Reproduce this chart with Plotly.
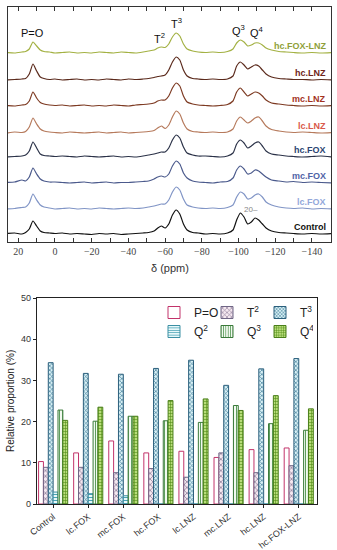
import plotly.graph_objects as go

# ---------------- Top panel: NMR spectra ----------------
ppm = [26, 22, 18, 16, 14, 12, 10, 8, 6, 3,
       0, -4, -8, -12, -16, -20, -24, -28, -32, -36,
       -40, -44, -48, -51, -54, -56, -58, -60, -62, -64,
       -66, -68, -70, -72, -75, -78, -82, -86, -90, -94,
       -97, -99, -101, -103, -105, -107, -109, -111, -113, -115,
       -118, -122, -126, -130, -135, -140, -145, -151]

control = [0.5, 1, 0, 1.5, 5, 13, 8, 3, 1.5, 1, 0.5, 1, 0, 0.5, 0, -0.5, 0.5, 0, 0.5, -0.5,
           0, 0.5, 1, 1.5, 3, 6, 8, 6, 10, 19, 24, 20, 10, 4, 1.5, 1, 0, 0.5, 0, 1,
           4, 14, 21, 17, 10, 12, 16, 14, 10, 6, 3, 1.5, 1, 0.5, 0, 0.5, 0, 0.5]
lc_fox = [0, 0.5, 1.5, 2, 6, 15, 9, 4, 2, 1, 0, 0.5, 1, 0, 0.5, 0, 1, 0.5, 0, 0.5,
          1, 0.5, 1, 2, 3, 4, 5, 5, 9, 17, 22, 19, 10, 4, 2, 1, 0.5, 1, 0.5, 1.5,
          4, 12, 17, 15, 10, 11, 14, 15, 12, 7, 4, 2, 1, 0.5, 1, 0, 0.5, 0]
mc_fox = [0.5, 1, 3, 2, 6, 15, 9, 4, 2, 1, 1, 0.5, 0, 0.5, 1, 0, 0.5, 1, 0, 0.5,
          0.5, 1, 1.5, 2, 4, 6, 7, 6, 9, 17, 22, 19, 10, 5, 2, 1, 0.5, 0, 1, 1.5,
          5, 13, 17, 14, 9, 10, 13, 12, 9, 6, 3, 2, 1, 1.5, 0.5, 1, 0.5, 0]
hc_fox = [0, 0.5, 1, 2, 6, 15, 9, 3, 1.5, 1, 0.5, 1, 0.5, 0, 1, 0.5, 0, 0.5, 1, 0,
          0.5, 0, 1, 2, 3, 4, 5, 5, 9, 17, 22, 19, 10, 4, 2, 1, 1, 0.5, 0, 1,
          4, 13, 17, 14, 9, 11, 14, 15, 11, 6, 3, 2, 1, 0.5, 0, 0.5, 1, 0]
lc_lnz = [0, 1, 0.5, 1.5, 6, 15, 9, 4, 2, 1, 0.5, 0, 1, 0.5, 0, 0.5, 1, 0, 0.5, 1,
          0, 0.5, 1, 1.5, 2.5, 5, 7, 4.5, 8, 16, 22, 19, 10, 4, 1.5, 1, 0.5, 1, 0.5, 1,
          4, 12, 16, 13, 10, 12, 15, 16, 12, 7, 3.5, 2, 1, 0.5, 1, 0.5, 0, 0.5]
mc_lnz = [0.5, 0, 1, 1.5, 5, 14, 8, 3.5, 2, 1, 0.5, 1, 0, 0.5, 1, 0, 0.5, 0, 1, 0.5,
          0, 1, 1.5, 2, 3, 5, 6, 6, 10, 18, 23, 20, 10, 4, 2, 1, 0.5, 0, 0.5, 1.5,
          5, 14, 18, 14, 10, 12, 14, 13, 10, 6, 3, 2, 1, 0.5, 0, 0.5, 0, 0.5]
hc_lnz = [0, 0.5, 1, 1.5, 6, 16, 9, 3, 1.5, 0.5, 1, 0, 0.5, 1, 0, 0.5, 0, 1, 0.5, 0,
          1, 0.5, 1, 1.5, 2.5, 3.5, 4, 5, 10, 18, 23, 20, 10, 4, 1.5, 1, 0.5, 1, 0.5, 1,
          4, 14, 18, 15, 11, 13, 15, 14, 10, 6, 3, 1.5, 1, 0.5, 0.5, 0, 0.5, 0]
hc_fox_lnz = [0.5, 0, 1, 1.5, 4, 11, 7, 3, 1.5, 1, 0, 0.5, 1, 0, 0.5, 0, 1, 0.5, 0, 1,
              0.5, 0, 1, 2, 3, 5, 6, 5.5, 9, 16, 20, 17, 9, 4, 2, 1, 0.5, 1, 0.5, 1.5,
              4, 10, 13, 11, 7, 8, 10, 10, 8, 5, 3, 1.5, 1, 0.5, 0, 0.5, 0, 0.5]

spectra_names = ['Control', 'lc.FOX', 'mc.FOX', 'hc.FOX', 'lc.LNZ', 'mc.LNZ', 'hc.LNZ', 'hc.FOX-LNZ']
spectra = [control, lc_fox, mc_fox, hc_fox, lc_lnz, mc_lnz, hc_lnz, hc_fox_lnz]

# styles (stacking offsets and colours)
offsets = [8, 33, 59, 85, 109, 136, 162, 189]
line_colors = ['#111111', '#8195c6', '#4b5a8c', '#2b3248', '#b67a5c', '#7d3a22', '#5b2a1c', '#a3b143']
label_colors = ['#111111', '#93a8da', '#5063a6', '#2c4572', '#d9594b', '#a3331f', '#70251a', '#909f3a']

peak_labels = ['P=O', 'T<sup>2</sup>', 'T<sup>3</sup>', 'Q<sup>3</sup>', 'Q<sup>4</sup>']
peak_ppm = [12, -57, -66, -100, -110]
peak_y = [209, 204, 219, 212, 210]

# ---------------- Bottom panel: bar chart ----------------
samples = ['Control', 'lc.FOX', 'mc.FOX', 'hc.FOX', 'lc.LNZ', 'mc.LNZ', 'hc.LNZ', 'hc.FOX-LNZ']
p_o = [10.3, 12.4, 15.3, 12.4, 12.8, 11.3, 13.2, 13.6]
t2 = [8.9, 8.9, 7.6, 8.6, 6.5, 12.4, 7.6, 9.3]
t3 = [34.3, 31.7, 31.5, 32.9, 34.9, 28.8, 32.8, 35.3]
q2 = [2.9, 2.5, 2.0, 0, 0, 0, 0, 0]
q3 = [22.8, 20.1, 21.3, 20.2, 19.8, 23.9, 19.5, 17.9]
q4 = [20.3, 23.5, 21.3, 25.1, 25.5, 22.7, 26.3, 23.1]

bar_names = ['P=O', 'T<sup>2</sup>', 'T<sup>3</sup>', 'Q<sup>2</sup>', 'Q<sup>3</sup>', 'Q<sup>4</sup>']
bar_values = [p_o, t2, t3, q2, q3, q4]
bar_shapes = ['', 'x', 'x', '-', '|', '+']
bar_fg = ['#c2336a', '#8c7d99', '#2e6f8e', '#4aa3b5', '#5e9e5e', '#4f8a14']
bar_bg = ['#ffffff', '#f5e8f0', '#d8f0f5', '#e8f8fa', '#f2f9f0', '#b8dd7a']
bar_line = ['#c2336a', '#6f6585', '#2b5f7c', '#3b8fa3', '#3a7a3a', '#4a7f1a']
bar_size = [6, 4, 3, 3, 3, 3]
bar_legend = ['legend', 'legend', 'legend', 'legend2', 'legend2', 'legend2']

W, H = 337, 550
FONT = 'Arial, Liberation Sans, sans-serif'

fig = go.Figure()

for name, vals, off, lc in zip(spectra_names, spectra, offsets, line_colors):
    fig.add_trace(go.Scatter(
        x=ppm, y=[v + off for v in vals], mode='lines', name=name,
        line=dict(color=lc, width=1.2, shape='spline', smoothing=0.6),
        xaxis='x', yaxis='y', showlegend=False, hoverinfo='skip'))

for name, vals, shp, fg, bg, lcol, sz, lg in zip(bar_names, bar_values, bar_shapes, bar_fg,
                                                  bar_bg, bar_line, bar_size, bar_legend):
    fig.add_trace(go.Bar(
        x=samples, y=vals, name=name, xaxis='x2', yaxis='y2', legend=lg,
        marker=dict(color=bg, line=dict(color=lcol, width=1),
                    pattern=dict(shape=shp, fgcolor=fg, bgcolor=bg, size=sz,
                                 solidity=0.35, fillmode='replace'))))

annotations = []
for name, off, col in zip(spectra_names, offsets, label_colors):
    annotations.append(dict(x=328 / W, xref='paper', y=off + 7, yref='y', text='<b>' + name + '</b>',
                            showarrow=False, xanchor='right', yanchor='middle',
                            font=dict(family=FONT, size=9, color=col)))
for txt, px, py in zip(peak_labels, peak_ppm, peak_y):
    annotations.append(dict(x=px, xref='x', y=py, yref='y', text=txt, showarrow=False,
                            xanchor='center', yanchor='middle',
                            font=dict(family=FONT, size=11, color='#111111')))
annotations.append(dict(x=-107, xref='x', y=32, yref='y', text='20–', showarrow=False,
                        font=dict(family=FONT, size=8, color='#888888')))
annotations.append(dict(x=170 / W, xref='paper', y=1 - 268 / H, yref='paper', text='δ (ppm)',
                        showarrow=False, xanchor='center', yanchor='middle',
                        font=dict(family=FONT, size=11, color='#333333')))
annotations.append(dict(x=10 / W, xref='paper', y=1 - 401 / H, yref='paper',
                        text='Relative proportion (%)', textangle=-90, showarrow=False,
                        xanchor='center', yanchor='middle',
                        font=dict(family=FONT, size=10, color='#222222')))

legend_common = dict(orientation='h', xanchor='left', yanchor='top',
                     font=dict(family=FONT, size=12, color='#222222'), bgcolor='rgba(0,0,0,0)',
                     entrywidth=8, entrywidthmode='pixels', itemwidth=30, traceorder='normal',
                     tracegroupgap=0)

fig.update_layout(
    width=W, height=H, margin=dict(l=0, r=0, t=0, b=0, autoexpand=False),
    paper_bgcolor='white', plot_bgcolor='white',
    font=dict(family=FONT, color='#222222'),
    barmode='group', bargap=0.17, bargroupgap=0.0,
    xaxis=dict(domain=[8 / W, 331 / W], anchor='y', range=[25.6, -150.4],
               showline=True, linecolor='#333333', linewidth=1, mirror='ticks',
               ticks='inside', ticklen=4, tickcolor='#333333', dtick=20, tick0=0,
               minor=dict(dtick=10, ticks='inside', ticklen=4, tickcolor='#333333'),
               showgrid=False, zeroline=False, automargin=False,
               tickfont=dict(family='Liberation Serif, Times New Roman, serif', size=10,
                             color='#444444')),
    yaxis=dict(domain=[1 - 242 / H, 1 - 7 / H], anchor='x', range=[0, 235],
               showline=True, linecolor='#333333', linewidth=1, mirror=True,
               showticklabels=False, ticks='', showgrid=False, zeroline=False),
    xaxis2=dict(domain=[37 / W, 317 / W], anchor='y2', type='category', range=[-0.46, 7.52],
                showline=True, linecolor='#222222', linewidth=1.2, mirror=True,
                ticks='outside', ticklen=3, tickcolor='#222222', tickangle=-38,
                automargin=False,
                tickfont=dict(family=FONT, size=9, color='#333333'), showgrid=False),
    yaxis2=dict(domain=[1 - 504 / H, 1 - 298 / H], anchor='x2', range=[0, 50], dtick=10,
                showline=True, linecolor='#222222', linewidth=1.2, mirror=True,
                ticks='outside', ticklen=3, tickcolor='#222222', automargin=False,
                tickfont=dict(family=FONT, size=9, color='#333333'),
                showgrid=False, zeroline=False),
    legend=dict(x=154 / W, y=1 - 298 / H, **legend_common),
    legend2=dict(x=154 / W, y=1 - 317 / H, **legend_common),
    annotations=annotations,
)

fig.write_html('out.html', config={'displayModeBar': False},
               post_script="document.body.style.margin='0';document.body.style.overflow='hidden';")
